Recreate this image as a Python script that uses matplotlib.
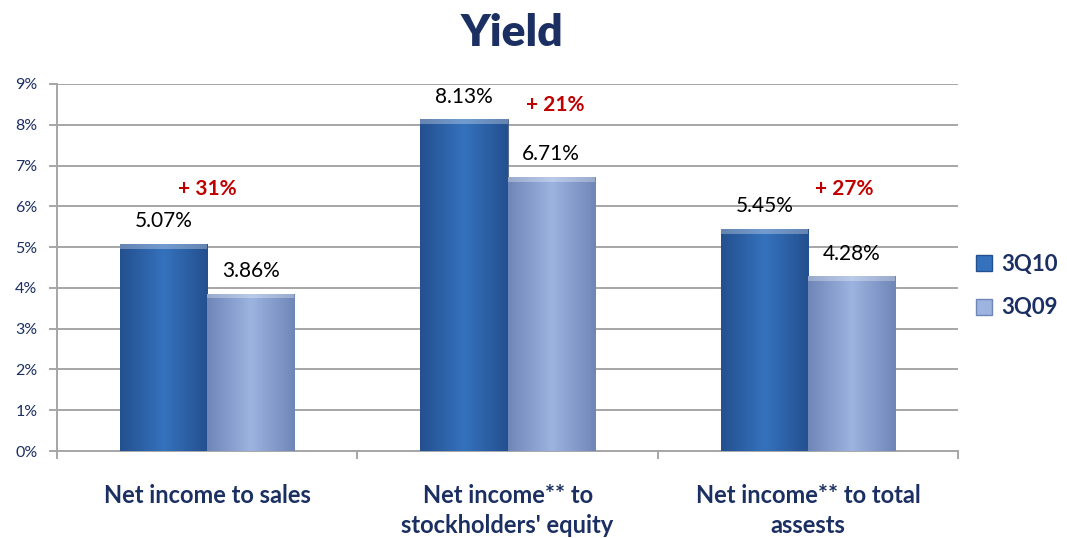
import matplotlib.pyplot as plt
import numpy as np
from matplotlib.colors import LinearSegmentedColormap
from matplotlib.lines import Line2D

categories = ["Net income to sales", "Net income** to\nstockholders' equity",
              "Net income** to total\nassests"]
q3_10 = [5.07, 8.13, 5.45]
q3_09 = [3.86, 6.71, 4.28]
growth = ["+ 31%", "+ 21%", "+ 27%"]
growth_y = [6.42, 8.48, 6.42]
growth_dx = [0.0, 0.16, 0.12]
series = ["3Q10", "3Q09"]

NAVY = "#1b2f63"
RED = "#c00000"
GRID = "#a6a6a6"
DARK = ["#24508f", "#3572bd", "#24508f"]
LIGHT = ["#6f86b8", "#9db4e0", "#6f86b8"]

plt.rcParams["font.family"] = ["Lato", "DejaVu Sans"]

fig = plt.figure(figsize=(10.67, 5.38), dpi=100)
ax = fig.add_axes([0.0534, 0.1617, 0.8446, 0.6822])

x = np.arange(len(categories))
w = 0.29


def shaded_bars(xs, vals, cols):
    bars = ax.bar(xs, vals, w, color=cols[1], edgecolor="#4a5f80", linewidth=0.6, zorder=3)
    cmap = LinearSegmentedColormap.from_list("b", cols)
    grad = np.linspace(0, 1, 64).reshape(1, -1)
    for b in bars:
        x0, y0 = b.get_x(), b.get_y()
        im = ax.imshow(grad, cmap=cmap, extent=(x0, x0 + b.get_width(), y0, y0 + b.get_height()),
                       aspect="auto", zorder=3, interpolation="bicubic")
        im.set_clip_path(b)
        # bevelled top edge
        ax.fill_between([x0, x0 + b.get_width()], b.get_height() - 0.12, b.get_height(),
                        color="white", alpha=0.3, zorder=4, linewidth=0)
    return bars


b1 = shaded_bars(x - w / 2, q3_10, DARK)
b2 = shaded_bars(x + w / 2, q3_09, LIGHT)

for bars, vals in ((b1, q3_10), (b2, q3_09)):
    for b, v in zip(bars, vals):
        ax.annotate(f"{v:.2f}%", (b.get_x() + b.get_width() / 2, v), xytext=(0, 16.5),
                    textcoords="offset points", ha="center", va="center",
                    fontsize=15, color="black")

for xi, g, gy, dx in zip(x, growth, growth_y, growth_dx):
    ax.text(xi + dx, gy, g, ha="center", va="center", fontsize=15,
            fontweight="bold", color=RED)

ax.set_xlim(-0.5, len(categories) - 0.5)
ax.set_ylim(0, 9)
ax.set_yticks(range(10))
ax.set_yticklabels([f"{i}%" for i in range(10)], color=NAVY, fontsize=11.5)
ax.yaxis.grid(True, color=GRID, linewidth=1.4, zorder=0)
ax.set_axisbelow(True)
ax.tick_params(axis="y", length=6, width=1.4, color=GRID, pad=8)

ax.set_xticks(np.arange(len(categories) + 1) - 0.5)
ax.set_xticklabels([])
ax.tick_params(axis="x", length=6, width=1.4, color=GRID)
for xi, c in zip(x, categories):
    ax.text(xi, -0.82, c, ha="center", va="top", fontsize=17, fontweight="bold",
            color=NAVY, linespacing=1.35)

for s in ("top", "right"):
    ax.spines[s].set_visible(False)
ax.spines["left"].set_color(GRID)
ax.spines["left"].set_linewidth(1.4)
ax.spines["bottom"].set_color(GRID)
ax.spines["bottom"].set_linewidth(1.4)

fig.text(0.48, 0.938, "Yield", ha="center", va="center", fontsize=32,
         fontweight="heavy", color=NAVY)

handles = [Line2D([], [], marker="s", linestyle="", markersize=12, markerfacecolor=DARK[1],
                  markeredgecolor="#24508f"),
           Line2D([], [], marker="s", linestyle="", markersize=12, markerfacecolor=LIGHT[1],
                  markeredgecolor="#6f86b8")]
fig.legend(handles, series, loc="center left", bbox_to_anchor=(0.893, 0.468), frameon=False,
           prop={"size": 16, "weight": "bold"}, labelcolor=NAVY, handletextpad=0.3,
           labelspacing=1.0, handlelength=1.0)

fig.savefig("out.png", dpi=100)
